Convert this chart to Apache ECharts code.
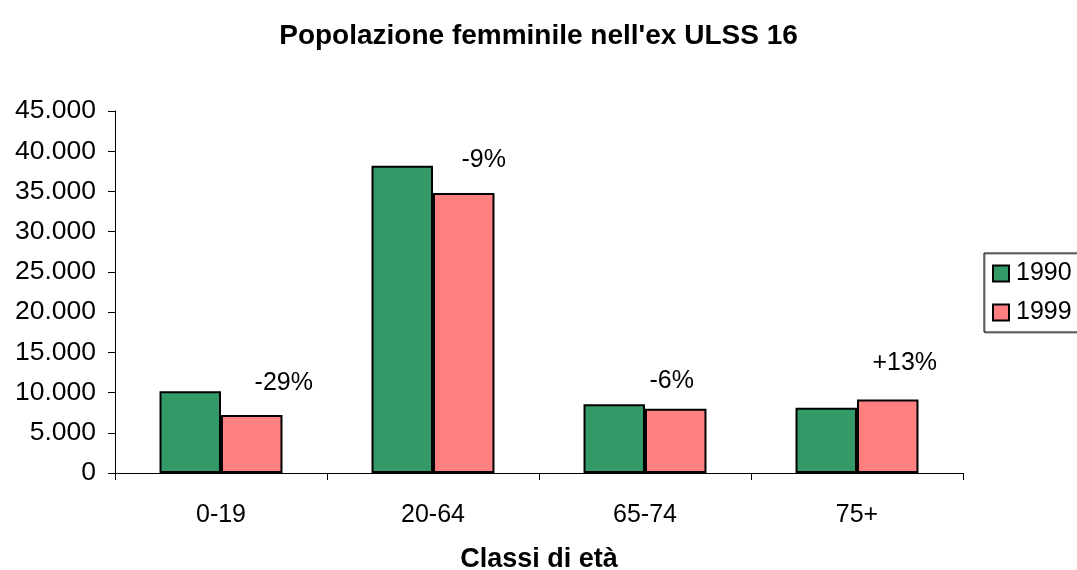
<!DOCTYPE html>
<html>
<head>
<meta charset="utf-8">
<script src="https://cdn.jsdelivr.net/npm/echarts@6/dist/echarts.min.js"></script>
<style>
  html, body { margin: 0; padding: 0; background: #fff; }
  #chart { width: 1077px; height: 570px; }
</style>
</head>
<body>
<div id="chart"></div>
<script>
const categories = ['0-19', '20-64', '65-74', '75+']
const pop1990 = [10150, 38200, 8550, 8100]
const pop1999 = [7200, 34800, 8000, 9150]
const changes = ['-29%', '-9%', '-6%', '+13%']
const yTicks = [0, 5000, 10000, 15000, 20000, 25000, 30000, 35000, 40000, 45000]

// the change labels sit a little right of / above each 1999 bar
const labelShift = [[32, -14], [20, -15], [-4, -10], [17, -19]]

const font = "'Liberation Sans', Arial, sans-serif"
const fmt = v => String(v).replace(/\B(?=(\d{3})+(?!\d))/g, '.')

const chart = echarts.init(document.getElementById('chart'))

chart.setOption({
  animation: false,
  backgroundColor: '#fff',
  textStyle: { fontFamily: font, color: '#000' },
  title: {
    text: "Popolazione femminile nell'ex ULSS 16",
    left: 'center',
    top: 17,
    textStyle: { fontFamily: font, fontSize: 28, fontWeight: 'bold', color: '#000' }
  },
  legend: {
    orient: 'vertical',
    left: 984,
    top: 253,
    padding: [8, 10, 7, 8],
    itemWidth: 16,
    itemHeight: 16,
    itemGap: 14,
    icon: 'rect',
    borderColor: '#000',
    borderWidth: 1,
    shadowColor: 'rgba(0,0,0,0.5)',
    shadowOffsetX: 1,
    shadowOffsetY: 1,
    textStyle: { fontFamily: font, fontSize: 25, color: '#000', padding: [0, 0, 0, 2] }
  },
  grid: {
    left: 115, right: 114, top: 111, bottom: 97,
    containLabel: false,
    outerBoundsMode: 'none'
  },
  xAxis: {
    type: 'category',
    data: categories,
    name: 'Classi di età',
    nameLocation: 'middle',
    nameGap: 73,
    nameTextStyle: { fontFamily: font, fontSize: 27, fontWeight: 'bold', color: '#000' },
    axisLine: { lineStyle: { color: '#000', width: 1 } },
    axisTick: { show: true, length: 7, lineStyle: { color: '#000' } },
    axisLabel: { fontFamily: font, fontSize: 25, color: '#000', margin: 30 },
    splitLine: { show: false }
  },
  yAxis: {
    type: 'value',
    min: yTicks[0],
    max: yTicks[yTicks.length - 1],
    interval: yTicks[1] - yTicks[0],
    axisLine: { show: true, lineStyle: { color: '#000', width: 1 } },
    axisTick: { show: true, length: 7, lineStyle: { color: '#000' } },
    axisLabel: { fontFamily: font, fontSize: 26.5, color: '#000', margin: 19, formatter: v => fmt(v) },
    splitLine: { show: false }
  },
  series: [
    {
      name: '1990',
      type: 'bar',
      data: pop1990,
      barGap: '0%',
      barCategoryGap: '42%',
      itemStyle: { color: '#339966', borderColor: '#000', borderWidth: 2 }
    },
    {
      name: '1999',
      type: 'bar',
      data: pop1999.map((v, i) => ({
        value: v,
        label: {
          show: true,
          position: 'top',
          offset: labelShift[i],
          formatter: changes[i]
        }
      })),
      itemStyle: { color: '#FF8080', borderColor: '#000', borderWidth: 2 },
      label: { fontFamily: font, fontSize: 25, color: '#000' }
    }
  ]
})

window.addEventListener('resize', () => chart.resize())
</script>
</body>
</html>
